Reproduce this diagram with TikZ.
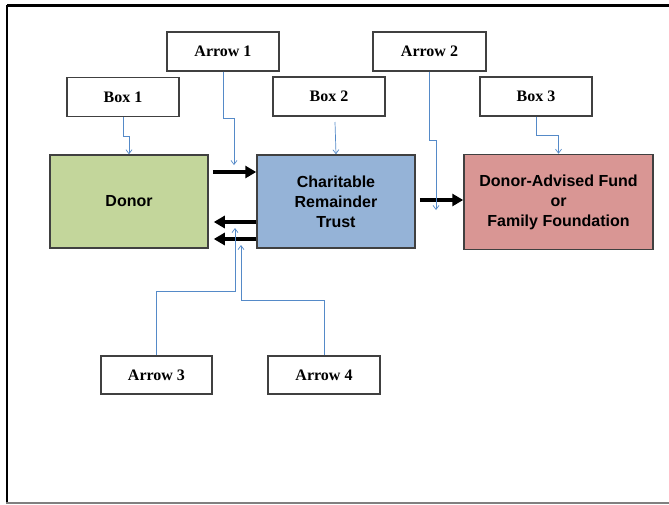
\documentclass[tikz,border=0pt]{standalone}
\usepackage{fontspec}
\setmainfont{Liberation Serif}
\newfontfamily\arialf{Liberation Sans}
\usetikzlibrary{arrows.meta}
\definecolor{donorc}{RGB}{195,214,155}
\definecolor{crtc}{RGB}{149,179,215}
\definecolor{dafc}{RGB}{217,150,148}
\definecolor{boxgray}{RGB}{64,64,64}
\definecolor{bluec}{RGB}{85,138,200}
\begin{document}
\begin{tikzpicture}[x=1pt,y=-1pt,
  smallbox/.style={draw=boxgray, line width=1.2pt, fill=white, minimum width=112pt, minimum height=39pt, inner sep=0pt, font=\fontsize{16}{18}\selectfont\bfseries},
  bigbox/.style={draw=boxgray, line width=1.5pt, minimum height=93pt, inner sep=0pt, align=center, font=\arialf\fontsize{16}{20}\selectfont\bfseries},
  bluecon/.style={draw=bluec, line width=0.7pt, -{Straight Barb[length=4pt,width=6pt]}},
  thickarr/.style={line width=4.5pt, -{Triangle[length=11pt,width=12pt]}}]
\useasboundingbox (0,0) rectangle (669,504);
% frame
\draw[line width=2.5pt] (7,5.5) -- (669,5.5);
\draw[line width=2.5pt] (7,4.5) -- (7,503);
\draw[line width=2pt, gray] (6,503) -- (669,503);
% main boxes
\node[bigbox, fill=donorc, minimum width=158pt] (donor) at (129,201.5) {Donor};
\node[bigbox, fill=crtc, minimum width=158pt] (crt) at (336,201.5) {Charitable\\Remainder\\Trust};
\node[bigbox, fill=dafc, minimum width=189pt, minimum height=95pt] (daf) at (558.5,202) {Donor-Advised Fund\\or\\Family Foundation};
% label boxes
\node[smallbox] (b1) at (123,97) {Box 1};
\node[smallbox] (a1) at (223,51.5) {Arrow 1};
\node[smallbox] (b2) at (329,96.5) {Box 2};
\node[smallbox, minimum width=113pt] (a2) at (429.5,51.5) {Arrow 2};
\node[smallbox] (b3) at (536,96.5) {Box 3};
\node[smallbox, minimum width=111pt, minimum height=38pt] (a3) at (156.5,375) {Arrow 3};
\node[smallbox, minimum height=38pt] (a4) at (324,375) {Arrow 4};
% thick arrows
\draw[thickarr, shorten <=4pt] (donor.east |- 0,172) -- (crt.west |- 0,172);
\draw[thickarr, shorten >=5pt] (crt.west |- 0,222) -- (donor.east |- 0,222);
\draw[thickarr, shorten >=5pt] (crt.west |- 0,239) -- (donor.east |- 0,239);
\draw[thickarr, shorten <=4pt] (crt.east |- 0,200) -- (daf.west |- 0,200);
% blue connectors
\coordinate (s2) at (335,122);
\coordinate (t1) at (234,165);
\coordinate (t2) at (436,210);
\coordinate (t3) at (235,228);
\coordinate (t4) at (241,245);
\draw[bluecon] (b1.south) |- (donor.north |- 0,136) -- (donor.north);
\draw[bluecon] (a1.south) |- (t1 |- 0,118) -- (t1);
\draw[bluecon] (s2) -- (crt.north);
\draw[bluecon] (a2.south) |- (t2 |- 0,140) -- (t2);
\draw[bluecon] (b3.south) |- (daf.north |- 0,135) -- (daf.north);
\draw[bluecon] (a3.north) |- (t3 |- 0,291) -- (t3);
\draw[bluecon] (a4.north) |- (t4 |- 0,300) -- (t4);
\end{tikzpicture}
\end{document}
